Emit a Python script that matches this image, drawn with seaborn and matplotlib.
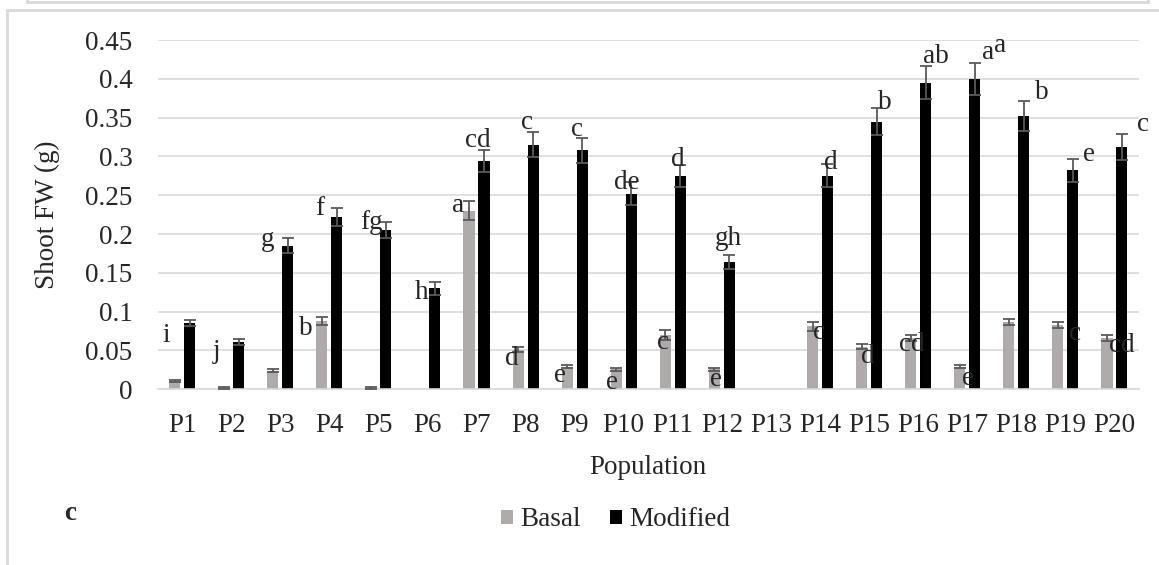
import numpy as np
import pandas as pd
import seaborn as sns
import matplotlib.pyplot as plt
from matplotlib.patches import Patch
from matplotlib.lines import Line2D

populations = [f"P{i}" for i in range(1, 21)]
basal = [0.011, 0.002, 0.024, 0.088, 0.002, 0.0, 0.230, 0.051, 0.029, 0.026,
         0.070, 0.026, 0.0, 0.081, 0.055, 0.066, 0.029, 0.087, 0.083, 0.066]
basal_err = [0.001, 0.001, 0.002, 0.005, 0.001, 0.0, 0.012, 0.003, 0.002, 0.002,
             0.006, 0.002, 0.0, 0.006, 0.003, 0.004, 0.002, 0.004, 0.004, 0.004]
modified = [0.085, 0.061, 0.185, 0.222, 0.205, 0.130, 0.294, 0.315, 0.308, 0.252,
            0.275, 0.164, 0.0, 0.275, 0.345, 0.395, 0.400, 0.352, 0.282, 0.312]
modified_err = [0.004, 0.004, 0.010, 0.011, 0.010, 0.008, 0.014, 0.016, 0.016, 0.015,
                0.014, 0.009, 0.0, 0.015, 0.018, 0.021, 0.021, 0.019, 0.015, 0.017]
basal_letters = ["", "", "", "b", "", "", "a", "d", "e", "e",
                 "c", "e", "", "c", "d", "cd", "e", "", "c", "cd"]
modified_letters = ["i", "j", "g", "f", "fg", "h", "cd", "c", "c", "de",
                    "d", "gh", "", "d", "b", "ab", "a", "b", "e", "c"]

# hand nudges of the letter labels (pixels, relative to bar centre / error-bar top)
basal_nudge = [(0, 0), (0, 0), (0, 0), (-16, -11), (0, 0), (0, 0), (-11, -4), (-6, -11),
               (-7, -10), (-4, -15), (-2, -12), (2, -12), (0, 0), (6, -11), (6, -12),
               (1, -10), (8, -13), (0, 0), (17, -12), (15, -11)]
modified_nudge = [(-23, -15), (-22, -13), (-20, -2), (-17, 0), (-14, 0), (-13, -10),
                  (-6, 10), (-6, 10), (-5, 8), (-4, 0), (-2, 5), (-1, 17), (0, 0),
                  (3, 2), (8, 5), (10, 10), (13, 10), (18, 9), (16, 4), (21, 9)]

df = pd.DataFrame({
    "Population": populations * 2,
    "Treatment": ["Basal"] * 20 + ["Modified"] * 20,
    "FW": basal + modified,
})

sns.set_theme(style="white")
plt.rcParams["font.family"] = "serif"
plt.rcParams["font.serif"] = ["Liberation Serif", "DejaVu Serif"]
fs = 19.5

fig = plt.figure(figsize=(11.59, 5.65), dpi=100)
ax = fig.add_axes([157.5 / 1159, 1 - 389.3 / 565, (1139 - 157.5) / 1159, (389.3 - 40) / 565])

colors = {"Basal": "#AFABAB", "Modified": "#000000"}
sns.barplot(data=df, x="Population", y="FW", hue="Treatment", palette=colors,
            width=0.61, gap=0.26, saturation=1, errorbar=None, legend=False,
            linewidth=0, ax=ax, zorder=2)

ax.set_ylim(0, 0.45)
yt = np.round(np.arange(0, 0.451, 0.05), 2)
ax.set_yticks(yt)
ax.set_yticklabels([f"{v:g}" for v in yt], fontsize=fs)
ax.tick_params(axis="both", length=0, labelsize=fs)
ax.tick_params(axis="y", pad=18)
ax.tick_params(axis="x", pad=17)
ax.yaxis.grid(True, color="#D9D9D9", linewidth=1.2, zorder=0)
ax.set_axisbelow(True)
for s in ["top", "right", "left"]:
    ax.spines[s].set_visible(False)
ax.spines["bottom"].set_color("#D9D9D9")
ax.spines["bottom"].set_linewidth(1.2)
ax.set_xlim(-0.5, 19.5)
ax.set_ylabel("Shoot FW (g)", fontsize=fs, labelpad=18)
ax.set_xlabel("Population", fontsize=fs, labelpad=12)

series = [(basal, basal_err, basal_letters, basal_nudge),
          (modified, modified_err, modified_letters, modified_nudge)]
for cont, (vals, errs, letters, nudges) in zip(ax.containers, series):
    xs = [p.get_x() + p.get_width() / 2 for p in cont.patches]
    keep = [i for i, e in enumerate(errs) if e > 0]
    ax.errorbar([xs[i] for i in keep], [vals[i] for i in keep], yerr=[errs[i] for i in keep],
                fmt="none", ecolor="#595959", elinewidth=1.3, capsize=4.3, capthick=1.3,
                zorder=3)
    for x, v, e, lab, (dx, dy) in zip(xs, vals, errs, letters, nudges):
        if lab:
            ax.annotate(lab, (x, v + e), xytext=(dx, dy), textcoords="offset pixels",
                        ha="center", va="center", fontsize=fs, zorder=4)

# the doubled "a" over P17
x17 = ax.containers[1].patches[16]
ax.annotate("a", (x17.get_x() + x17.get_width() / 2, modified[16] + modified_err[16]),
            xytext=(25, 17), textcoords="offset pixels", ha="center", va="center",
            fontsize=fs, zorder=4)

handles = [Patch(facecolor=colors[k], edgecolor="none") for k in ["Basal", "Modified"]]
fig.legend(handles, ["Basal", "Modified"], loc="center", bbox_to_anchor=(0.531, 1 - 520 / 565),
           ncol=2, frameon=False, fontsize=fs, handlelength=0.45, handleheight=0.45,
           handletextpad=0.25, columnspacing=1.1)

fig.text(70 / 1159, 1 - 513 / 565, "c", fontsize=fs, fontweight="bold", ha="center", va="center")

# light frame lines around the panel
fc = "#D9D9D9"
fig.add_artist(Line2D([7 / 1159, 7 / 1159], [0, 1 - 10 / 565], color=fc, lw=2))
fig.add_artist(Line2D([7 / 1159, 1], [1 - 10 / 565, 1 - 10 / 565], color=fc, lw=2))
fig.add_artist(Line2D([27 / 1159, 1148 / 1159], [1 - 2 / 565, 1 - 2 / 565], color=fc, lw=2))
fig.add_artist(Line2D([27 / 1159, 27 / 1159], [1 - 2 / 565, 1], color=fc, lw=2))
fig.add_artist(Line2D([1148 / 1159, 1148 / 1159], [1 - 2 / 565, 1], color=fc, lw=2))

fig.savefig("out.png", dpi=100)
